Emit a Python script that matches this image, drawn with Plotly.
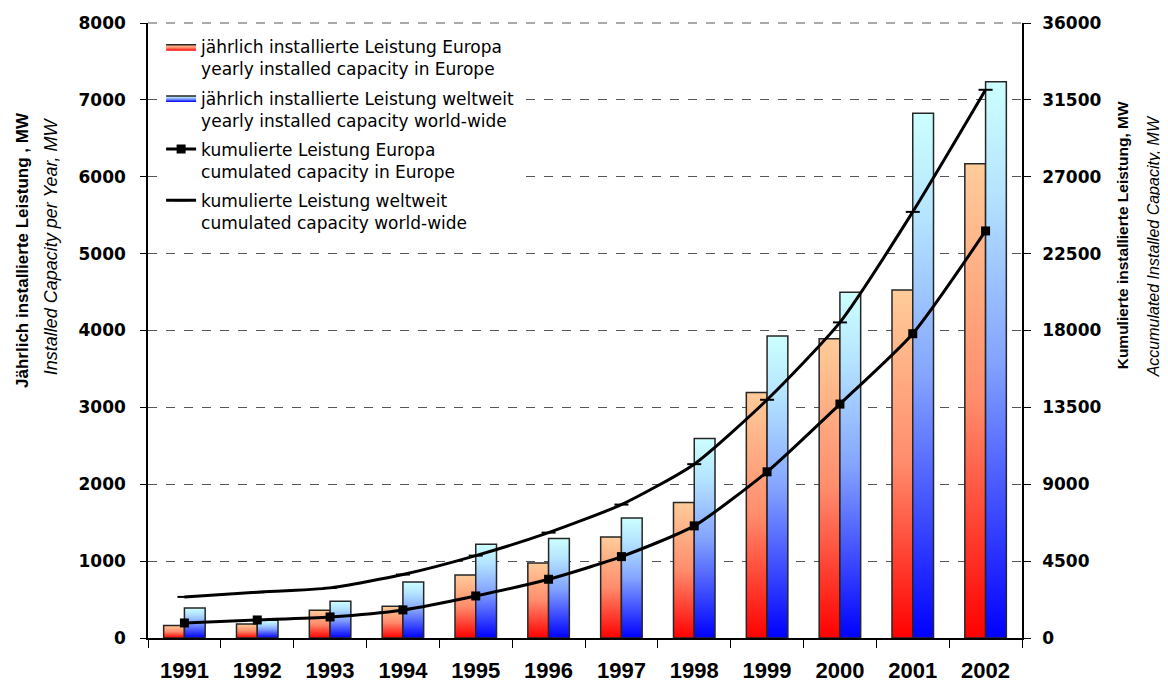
import plotly.graph_objects as go

years = ['1991', '1992', '1993', '1994', '1995', '1996', '1997', '1998', '1999', '2000', '2001', '2002']
europe_yearly = [164, 182, 360, 412, 820, 977, 1315, 1762, 3194, 3893, 4527, 6168]
world_yearly = [391, 230, 477, 730, 1220, 1293, 1562, 2595, 3928, 4496, 6827, 7236]
europe_cum = [880, 1056, 1232, 1643, 2461, 3438, 4764, 6563, 9727, 13693, 17812, 23828]
world_cum = [2406, 2677, 2934, 3714, 4823, 6170, 7810, 10176, 13945, 18474, 24943, 32090]

names = [
    'jährlich installierte Leistung Europa<br>yearly installed capacity in Europe',
    'jährlich installierte Leistung weltweit<br>yearly installed capacity world-wide',
    'kumulierte Leistung Europa<br>cumulated capacity in Europe',
    'kumulierte Leistung weltweit<br>cumulated capacity world-wide',
]

eu_scale = [[0, '#ff0000'], [0.5, '#ff8c6c'], [1, '#ffcc99']]
ww_scale = [[0, '#0000ff'], [0.5, '#84a4ff'], [0.8, '#b4e4ff'], [1, '#ccffff']]

BW = 0.285
xpos = list(range(len(years)))

fig = go.Figure()


def add_bars(values, offset_sign, scale, name, rank):
    for i, v in enumerate(values):
        c = xpos[i]
        if offset_sign < 0:
            x0, x1 = c - BW, c
        else:
            x0, x1 = c, c + BW
        fig.add_trace(go.Scatter(
            x=[x0, x0, x1, x1, x0], y=[0, v, v, 0, 0],
            mode='lines', fill='toself',
            fillgradient=dict(type='vertical', colorscale=scale, start=0, stop=v),
            line=dict(color='#262626', width=1.5),
            name=name, legendgroup=name, showlegend=(i == 0), legendrank=rank,
            hoverinfo='skip', yaxis='y'))


add_bars(europe_yearly, -1, eu_scale, names[0], 1)
add_bars(world_yearly, 1, ww_scale, names[1], 2)

fig.add_trace(go.Scatter(
    x=xpos, y=europe_cum, mode='lines+markers', line=dict(color='black', width=3, shape='spline', smoothing=0.6),
    marker=dict(symbol='square', size=9, color='black'), name=names[2], legendgroup='eucum',
    legendrank=3, yaxis='y2'))
fig.add_trace(go.Scatter(
    x=xpos, y=world_cum, mode='lines+markers', line=dict(color='black', width=3, shape='spline', smoothing=0.6),
    marker=dict(symbol='line-ew', size=10, color='black', line=dict(color='black', width=2)),
    name=names[3], legendgroup='wwcum', legendrank=4, yaxis='y2'))

tickfont = dict(family='DejaVu Sans', size=17, color='black', weight='bold')

# page body has an 8px margin, so the figure is offset 8px right and down
fig.update_layout(
    width=1160, height=676,
    margin=dict(l=140, r=146, t=15, b=46),
    paper_bgcolor='white', plot_bgcolor='white',
    font=dict(family='Liberation Sans, Arial', color='black'),
    showlegend=True,
    legend=dict(x=0.015, y=0.990, xanchor='left', yanchor='top', bgcolor='white',
                font=dict(family='DejaVu Sans', size=17, color='black'),
                valign='top', traceorder='grouped', tracegroupgap=4, itemwidth=30),
    xaxis=dict(range=[-0.5, 11.5], tickvals=xpos, ticktext=years, ticks='', automargin=False,
               tickfont=dict(family='Liberation Sans, Arial', size=22, color='black', weight='bold'),
               showline=True, linecolor='black', linewidth=1.5, showgrid=False, zeroline=False,
               ticklabelstandoff=12,
               minor=dict(tick0=-0.5, dtick=1, ticks='outside', ticklen=8, tickcolor='black', tickwidth=1.2)),
    yaxis=dict(range=[0, 8000], dtick=1000, tickfont=tickfont, ticks='outside', ticklen=6, automargin=False,
               tickcolor='black', showline=True, linecolor='black', linewidth=1.5, tickformat='d',
               showgrid=True, gridcolor='#555555', griddash='dash', gridwidth=1, zeroline=False,
               ticklabelstandoff=11),
    yaxis2=dict(range=[0, 36000], dtick=4500, tickfont=tickfont, ticks='outside', ticklen=7, automargin=False,
                tickcolor='black', showline=True, linecolor='black', linewidth=1.5, tickformat='d',
                overlaying='y', side='right', showgrid=False, zeroline=False,
                ticklabelstandoff=8),
    shapes=[dict(type='line', xref='paper', yref='paper', x0=0, x1=1, y0=1, y1=1,
                 line=dict(color='#555555', width=1, dash='dash'))],
)

ann = [
    dict(text='<b>Jährlich installierte Leistung , MW</b>', x=-0.143, y=0.631, size=17),
    dict(text='<i>Installed Capacity per Year, MW</i>', x=-0.111, y=0.637, size=18),
    dict(text='<b>Kumulierte installierte Leistung, MW</b>', x=1.115, y=0.654, size=15.5),
    dict(text='<i>Accumulated Installed Capacity, MW</i>', x=1.150, y=0.637, size=16),
]
for a in ann:
    fig.add_annotation(text=a['text'], x=a['x'], y=a['y'], xref='paper', yref='paper',
                       xanchor='center', yanchor='middle', textangle=-90, showarrow=False,
                       font=dict(family='Liberation Sans, Arial', size=a['size'], color='black'))

fig.write_html('out.html')
